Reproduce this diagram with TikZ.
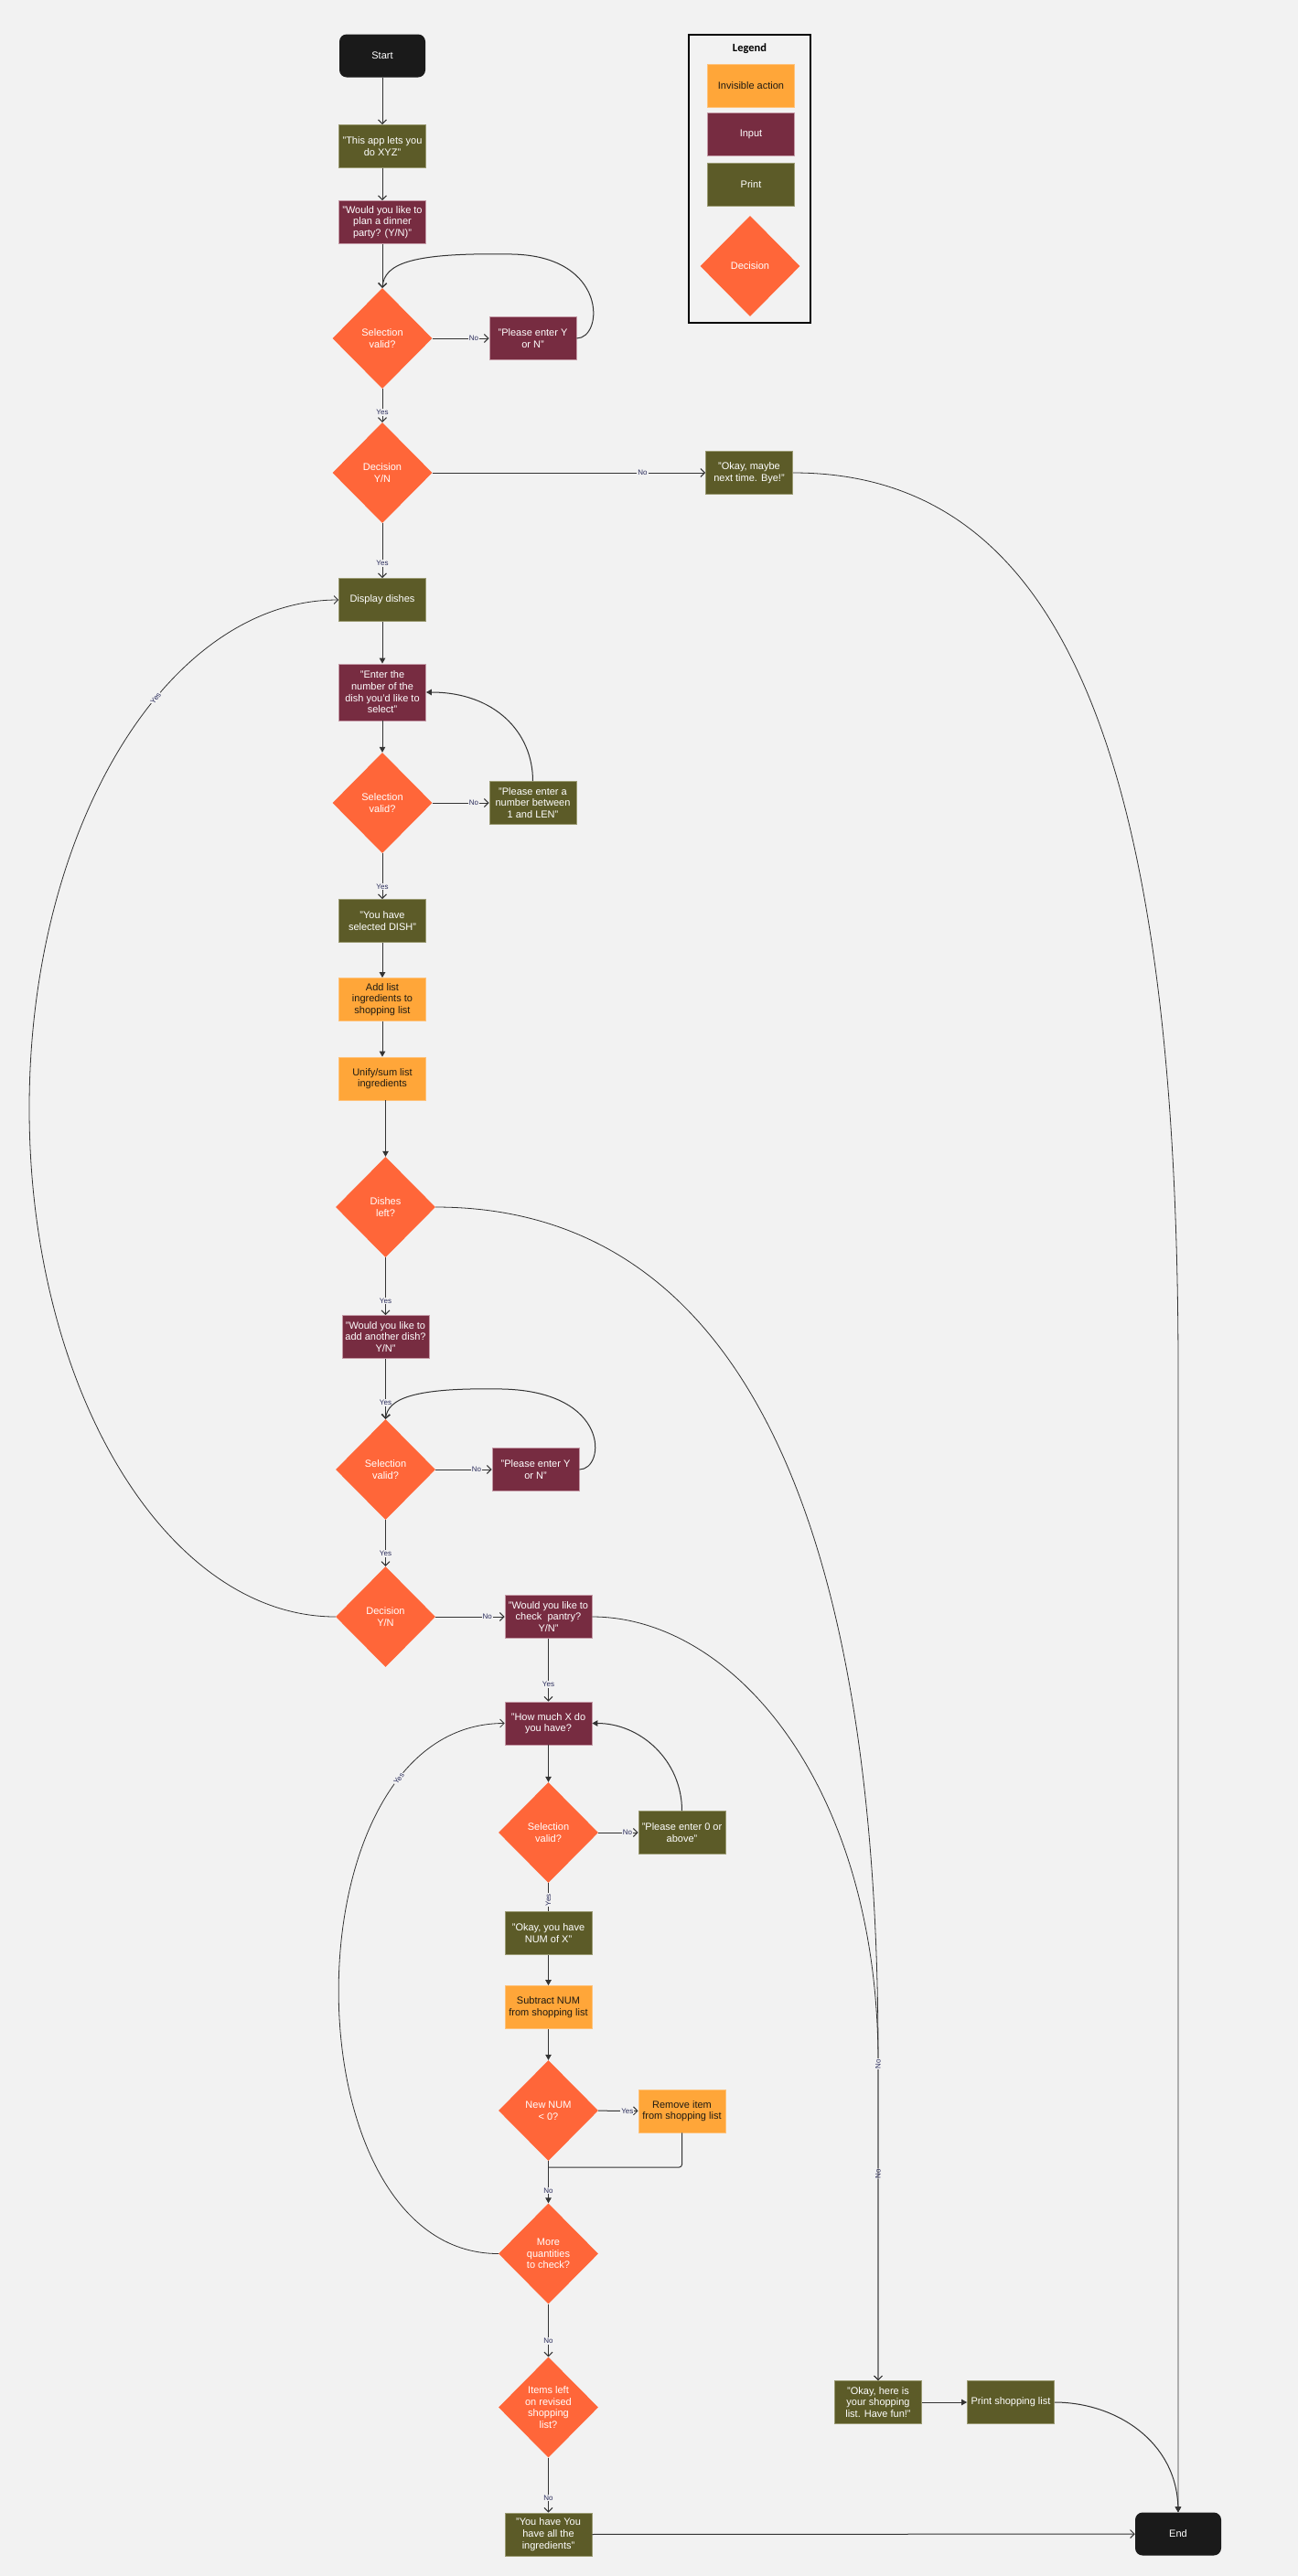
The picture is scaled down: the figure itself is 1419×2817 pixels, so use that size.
\documentclass[tikz,border=0pt]{standalone}
\usepackage{fontspec}
\setmainfont{Liberation Sans}
\newfontfamily\legendfont{Carlito}
\usetikzlibrary{shapes.geometric,arrows.meta,calc}
\definecolor{bgc}{HTML}{F2F2F2}
\definecolor{printc}{HTML}{5C5B28}
\definecolor{printb}{HTML}{9A9A72}
\definecolor{inputc}{HTML}{772C41}
\definecolor{inputb}{HTML}{C49AA6}
\definecolor{actc}{HTML}{FFA639}
\definecolor{actb}{HTML}{FFC27A}
\definecolor{acttxt}{HTML}{1E1A12}
\definecolor{decc}{HTML}{FF6639}
\definecolor{termc}{HTML}{1A1A1A}
\definecolor{linec}{HTML}{333333}
\definecolor{lblc}{HTML}{2B2D5C}
\tikzset{
  base/.style={inner sep=0pt, align=center, font=\fontsize{11}{12.7}\selectfont},
  prt/.style={base, rectangle, fill=printc, draw=printb, line width=0.8pt, minimum width=95, minimum height=47, text=white},
  inp/.style={base, rectangle, fill=inputc, draw=inputb, line width=0.8pt, minimum width=95, minimum height=47, text=white},
  act/.style={base, rectangle, fill=actc, draw=actb, line width=0.8pt, minimum width=95, minimum height=47, text=acttxt},
  dec/.style={base, diamond, aspect=1, fill=decc, minimum width=109, minimum height=110, text=white},
  term/.style={base, rectangle, rounded corners=8, fill=termc, minimum width=94, minimum height=47, text=white},
  ln/.style={draw=linec, line width=1pt},
  oa/.style={ln, -{Straight Barb[length=4.5pt,width=9pt]}},
  fa/.style={ln, -{Triangle[length=6pt,width=6.5pt]}},
  lbl/.style={font=\fontsize{8}{9}\selectfont, text=lblc, fill=bgc, inner sep=1pt, pos=.73},
}
\begin{document}
\begin{tikzpicture}[x=1pt,y=-1pt]
\fill[bgc] (0,0) rectangle (1419,2817);
\useasboundingbox (0,0) rectangle (1419,2817);

% Legend
\node[draw=black, line width=2.5pt, minimum width=133, minimum height=315, inner sep=0pt] (leg) at (819.5,195.5) {};
\node[font=\legendfont\bfseries\fontsize{12.5}{14}\selectfont] (legt) at (819.5,53) {Legend};
\node[act] (lga) at (821,94) {Invisible action};
\node[inp] (lgi) at (821,146.5) {Input};
\node[prt] (lgp) at (821,201.5) {Print};
\node[dec] (lgd) at (820,291) {Decision};

% Main column
\node[term] (start) at (418,61) {Start};
\node[prt] (p1) at (418,160) {"This app lets you\\do XYZ"};
\node[inp] (i1) at (418,243) {"Would you like to\\plan a dinner\\party? (Y/N)"};
\node[dec] (d1) at (418,370) {Selection\\valid?};
\node[inp] (i2) at (582.5,370) {"Please enter Y\\or N"};
\node[dec] (d2) at (418,517) {Decision\\Y/N};
\node[prt] (p2) at (819,517) {"Okay, maybe\\next time. Bye!"};
\node[prt] (p3) at (418,656) {Display dishes};
\node[inp, minimum height=62] (i3) at (418,757) {"Enter the\\number of the\\dish you'd like to\\select"};
\node[dec] (d3) at (418,878) {Selection\\valid?};
\node[prt] (p4) at (582.5,878) {"Please enter a\\number between\\1 and LEN"};
\node[prt] (p5) at (418,1007) {"You have\\selected DISH"};
\node[act] (a1) at (418,1093) {Add list\\ingredients to\\shopping list};
\node[act] (a2) at (418,1179.5) {Unify/sum list\\ingredients};
\node[dec] (d4) at (421.5,1320) {Dishes\\left?};
\node[inp] (i4) at (421.5,1462) {"Would you like to\\add another dish?\\Y/N"};
\node[dec] (d5) at (421.5,1607) {Selection\\valid?};
\node[inp] (i5) at (585.5,1607) {"Please enter Y\\or N"};
\node[dec] (d6) at (421.5,1768) {Decision\\Y/N};
\node[inp] (i6) at (599.5,1768) {"Would you like to\\check\ \ pantry?\\Y/N"};
\node[inp] (i7) at (599.5,1884.5) {"How much X do\\you have?};
\node[dec] (d7) at (599.5,2004) {Selection\\valid?};
\node[prt] (p6) at (745.5,2004) {"Please enter 0 or\\above"};
\node[prt] (p7) at (599.5,2114) {"Okay, you have\\NUM of X"};
\node[act] (a3) at (599.5,2195) {Subtract NUM\\from shopping list};
\node[dec] (d8) at (599.5,2308) {New NUM\\< 0?};
\node[act] (a4) at (745.5,2308.5) {Remove item\\from shopping list};
\node[dec] (d9) at (599.5,2464.5) {More\\quantities\\to check?};
\node[dec] (d10) at (599.5,2632.5) {Items left\\on revised\\shopping\\list?};
\node[prt] (p8) at (599.5,2771.5) {"You have You\\have all the\\ingredients"};
\node[prt] (p9) at (960,2627) {"Okay, here is\\your shopping\\list. Have fun!"};
\node[prt] (p10) at (1105,2627) {Print shopping list};
\node[term] (end) at (1288,2771) {End};
\coordinate (join) at (599.5,2370);

% Connectors
\draw[oa] (start) -- (p1);
\draw[oa] (p1) -- (i1);
\draw[oa] (i1) -- (d1);
\draw[oa] (d1) -- node[lbl]{No} (i2);
\draw[oa] (i2.east) .. controls (660,370) and (665,280) .. (560,278)
  .. controls (450,276) and (420,288) .. (d1.north);
\draw[oa] (d1) -- node[lbl,pos=.7]{Yes} (d2);
\draw[oa] (d2) -- node[lbl,pos=.77]{No} (p2);
\draw[oa] (d2) -- node[lbl]{Yes} (p3);
\draw[fa] (p3) -- (i3);
\draw[fa] (i3) -- (d3);
\draw[oa] (d3) -- node[lbl]{No} (p4);
\draw[fa] (p4.north) .. controls (582.5,800) and (540,757) .. (i3.east);
\draw[oa] (d3) -- node[lbl]{Yes} (p5);
\draw[fa] (p5) -- (a1);
\draw[fa] (a1) -- (a2);
\draw[fa] (a2.south -| d4.north) -- (d4.north);
\draw[oa] (d4) -- node[lbl,pos=.75]{Yes} (i4);
\draw[oa] (i4) -- node[lbl]{Yes} (d5);
\draw[oa] (d5) -- node[lbl]{No} (i5);
\draw[oa] (i5.east) .. controls (662,1607) and (668,1522) .. (550,1519)
  .. controls (450,1517) and (424,1530) .. (d5.north);
\draw[oa] (d5) -- node[lbl]{Yes} (d6);
\draw[oa] (d6) -- node[lbl,pos=.75]{No} (i6);
\draw[oa, line width=0.8pt] (d6.west) .. controls (182,1768) and (32,1519) .. (32,1212)
  .. controls (32,905) and (183,656) .. node[lbl,sloped,pos=.6]{Yes} (p3.west);
\draw[oa] (i6) -- node[lbl]{Yes} (i7);
\draw[fa] (i7) -- (d7);
\draw[oa] (d7) -- node[lbl]{No} (p6);
\draw[fa] (p6.north) .. controls (745.5,1925) and (700,1884.5) .. (i7.east);
\draw[ln] (d7) -- node[lbl,rotate=90,pos=.6]{Yes} (p7);
\draw[fa] (p7) -- (a3);
\draw[fa] (a3) -- (d8);
\draw[oa] (d8) -- node[lbl]{Yes} (a4);
\draw[ln, rounded corners=3] (a4.south) |- (join);
\draw[fa] (d8) -- node[lbl,pos=.7]{No} (d9);
\draw[oa, line width=0.8pt] (d9.west) .. controls (311,2464.5) and (311,1884.5) .. node[lbl,sloped,pos=.8]{Yes} (i7.west);
\draw[oa] (d9) -- node[lbl,pos=.7]{No} (d10);
\draw[oa] (d10) -- node[lbl]{No} (p8);
\draw[oa] (p8) -- (end);
\draw[oa, line width=0.8pt] (d4.east) .. controls (850,1320) and (960,1750) .. (960,2250)
  -- node[lbl,rotate=90,pos=.36]{No} (p9.north);
\draw[oa, line width=0.8pt] (i6.east) .. controls (800,1768) and (958,1950) .. (960,2250)
  -- node[lbl,rotate=90,pos=.02]{No} (p9.north);
\draw[fa] (p9) -- (p10);
\draw[fa, line width=0.8pt] (p2.east) .. controls (1150,517) and (1288,800) .. (1288,1500) -- (end.north);
\draw[fa] (p10.east) .. controls (1220,2627) and (1286,2670) .. (end.north);
\end{tikzpicture}
\end{document}
